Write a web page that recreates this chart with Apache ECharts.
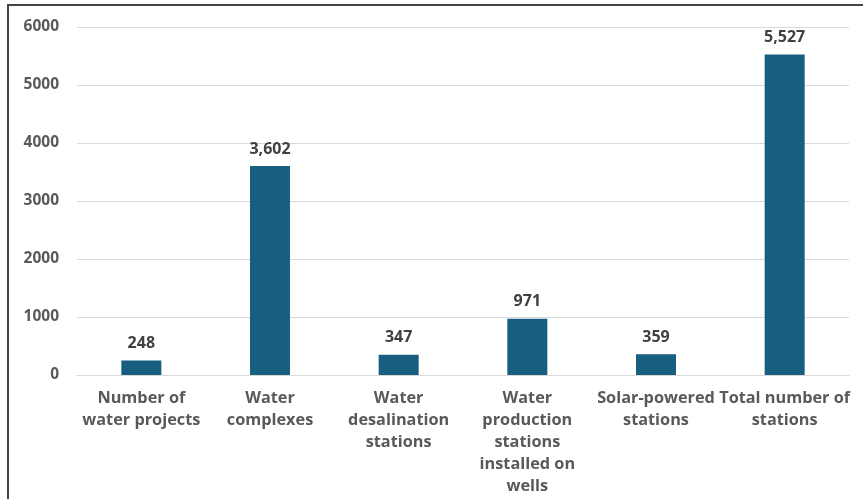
<!DOCTYPE html>
<html>
<head>
<meta charset="utf-8">
<script src="https://cdn.jsdelivr.net/npm/echarts@6/dist/echarts.min.js"></script>
<style>
  html, body { margin: 0; padding: 0; background: #ffffff; }
  #frame { position: absolute; left: 7px; top: 4px; width: 856px; height: 495px;
           border-left: 2px solid #444; border-top: 2px solid #444; box-sizing: border-box; }
  #chart { position: absolute; left: 0; top: 0; width: 863px; height: 499px; }
</style>
</head>
<body>
<div id="frame"></div>
<div id="chart"></div>
<script>
// Categories (with the line breaks used on the axis)
const categories = [
  'Number of\nwater projects',
  'Water\ncomplexes',
  'Water\ndesalination\nstations',
  'Water\nproduction\nstations\ninstalled on\nwells',
  'Solar-powered\nstations',
  'Total number of\nstations'
];
const values = [248, 3602, 347, 971, 359, 5527];
const yTicks = [0, 1000, 2000, 3000, 4000, 5000, 6000];

const chart = echarts.init(document.getElementById('chart'), null, { renderer: 'canvas' });
const font = '"Open Sans", "Liberation Sans", sans-serif';

chart.setOption({
  animation: false,
  backgroundColor: 'transparent',
  grid: { left: 77, right: 14, top: 27, bottom: 124, containLabel: false },
  xAxis: {
    type: 'category',
    data: categories,
    axisLine: { show: true, lineStyle: { color: '#d9d9d9', width: 1 } },
    axisTick: { show: false },
    axisLabel: {
      interval: 0,
      color: '#595959',
      fontFamily: font,
      fontWeight: 'bold',
      fontSize: 16.3,
      lineHeight: 22,
      margin: 12
    }
  },
  yAxis: {
    type: 'value',
    min: yTicks[0],
    max: yTicks[yTicks.length - 1],
    interval: 1000,
    axisLine: { show: false },
    axisTick: { show: false },
    splitLine: { lineStyle: { color: '#d9d9d9', width: 1 } },
    axisLabel: {
      color: '#595959',
      fontFamily: font,
      fontWeight: 'bold',
      fontSize: 15.5,
      margin: 18,
      formatter: v => String(v)
    }
  },
  series: [{
    type: 'bar',
    data: values,
    barWidth: 40,
    itemStyle: { color: '#185e80' },
    label: {
      show: true,
      position: 'top',
      distance: 9,
      color: '#404040',
      fontFamily: font,
      fontWeight: 'bold',
      fontSize: 16,
      formatter: p => p.value.toLocaleString('en-US')
    }
  }]
});
</script>
</body>
</html>
